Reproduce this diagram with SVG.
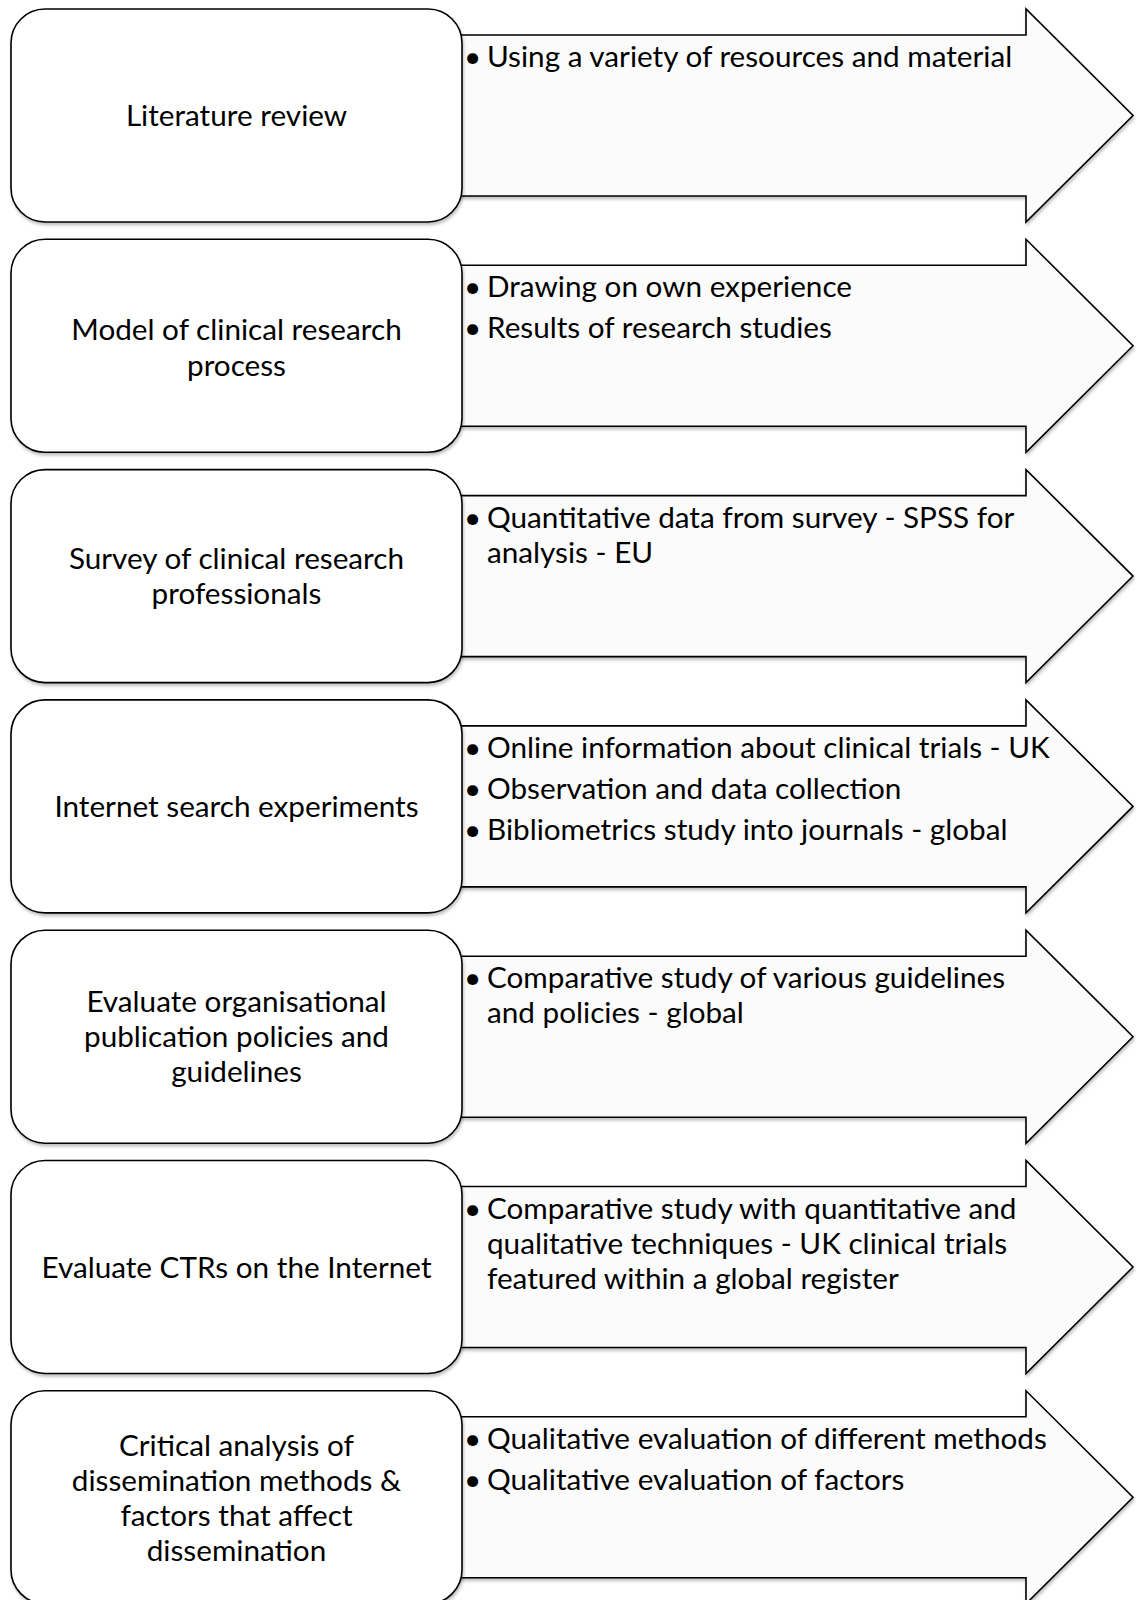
<svg xmlns="http://www.w3.org/2000/svg" width="1136" height="1600" viewBox="0 0 1136 1600">
  <style>
    .box { fill: #ffffff; stroke: #000000; stroke-width: 1.6; filter: url(#shadow); }
    .arrow { fill: #fbfbfb; stroke: #000000; stroke-width: 1.6; filter: url(#shadow); }
    .label { font-family: Lato, "Liberation Sans", sans-serif; font-size: 29.7px; fill: #000000; text-anchor: middle; }
    .item { font-family: Lato, "Liberation Sans", sans-serif; font-size: 29.7px; fill: #000000; }
  </style>
  <defs>
    <filter id="shadow" x="-5%" y="-5%" width="112%" height="115%">
      <feDropShadow dx="1" dy="2.5" stdDeviation="1.8" flood-color="#000000" flood-opacity="0.25"/>
    </filter>
    <!-- one block arrow, drawn relative to the row top -->
    <path id="blockArrow" d="M 440 26 H 1026 V 0 L 1133 106.5 L 1026 213 V 187 H 440 Z"/>
    <rect id="stepBox" x="11" y="0" width="451" height="213" rx="34" ry="34"/>
  </defs>

  <!-- detail arrows (drawn first so the step boxes sit on top) -->
  <g id="arrows">
    <g id="arrow-1" transform="translate(0 9)"><use href="#blockArrow" class="arrow"/></g>
    <g id="arrow-2" transform="translate(0 239.3)"><use href="#blockArrow" class="arrow"/></g>
    <g id="arrow-3" transform="translate(0 469.6)"><use href="#blockArrow" class="arrow"/></g>
    <g id="arrow-4" transform="translate(0 699.9)"><use href="#blockArrow" class="arrow"/></g>
    <g id="arrow-5" transform="translate(0 930.2)"><use href="#blockArrow" class="arrow"/></g>
    <g id="arrow-6" transform="translate(0 1160.5)"><use href="#blockArrow" class="arrow"/></g>
    <g id="arrow-7" transform="translate(0 1390.8)"><use href="#blockArrow" class="arrow"/></g>
  </g>

  <!-- step 1 -->
  <g id="step-1" transform="translate(0 9)">
    <use href="#stepBox" class="box"/>
    <text class="label" x="236.5" y="117">Literature review</text>
    <text class="item" y="58"><tspan x="464">•</tspan><tspan x="487">Using a variety of resources and material</tspan></text>
  </g>

  <!-- step 2 -->
  <g id="step-2" transform="translate(0 239.3)">
    <use href="#stepBox" class="box"/>
    <text class="label" x="236.5" y="100.5">Model of clinical research</text>
    <text class="label" x="236.5" y="137">process</text>
    <text class="item" y="58"><tspan x="464">•</tspan><tspan x="487">Drawing on own experience</tspan></text>
    <text class="item" y="99"><tspan x="464">•</tspan><tspan x="487">Results of research studies</tspan></text>
  </g>

  <!-- step 3 -->
  <g id="step-3" transform="translate(0 469.6)">
    <use href="#stepBox" class="box"/>
    <text class="label" x="236.5" y="99.7">Survey of clinical research</text>
    <text class="label" x="236.5" y="134.2">professionals</text>
    <text class="item" y="58"><tspan x="464">•</tspan><tspan x="487">Quantitative data from survey - SPSS for</tspan></text>
    <text class="item" x="487" y="93">analysis - EU</text>
  </g>

  <!-- step 4 -->
  <g id="step-4" transform="translate(0 699.9)">
    <use href="#stepBox" class="box"/>
    <text class="label" x="236.5" y="117">Internet search experiments</text>
    <text class="item" y="58"><tspan x="464">•</tspan><tspan x="487">Online information about clinical trials - UK</tspan></text>
    <text class="item" y="99"><tspan x="464">•</tspan><tspan x="487">Observation and data collection</tspan></text>
    <text class="item" y="140"><tspan x="464">•</tspan><tspan x="487">Bibliometrics study into journals - global</tspan></text>
  </g>

  <!-- step 5 -->
  <g id="step-5" transform="translate(0 930.2)">
    <use href="#stepBox" class="box"/>
    <text class="label" x="236.5" y="82">Evaluate organisational</text>
    <text class="label" x="236.5" y="117">publication policies and</text>
    <text class="label" x="236.5" y="152">guidelines</text>
    <text class="item" y="58"><tspan x="464">•</tspan><tspan x="487">Comparative study of various guidelines</tspan></text>
    <text class="item" x="487" y="93">and policies - global</text>
  </g>

  <!-- step 6 -->
  <g id="step-6" transform="translate(0 1160.5)">
    <use href="#stepBox" class="box"/>
    <text class="label" x="236.5" y="117">Evaluate CTRs on the Internet</text>
    <text class="item" y="58"><tspan x="464">•</tspan><tspan x="487">Comparative study with quantitative and</tspan></text>
    <text class="item" x="487" y="93">qualitative techniques - UK clinical trials</text>
    <text class="item" x="487" y="128">featured within a global register</text>
  </g>

  <!-- step 7 -->
  <g id="step-7" transform="translate(0 1390.8)">
    <use href="#stepBox" class="box"/>
    <text class="label" x="236.5" y="65">Critical analysis of</text>
    <text class="label" x="236.5" y="100">dissemination methods &amp;</text>
    <text class="label" x="236.5" y="135">factors that affect</text>
    <text class="label" x="236.5" y="170">dissemination</text>
    <text class="item" y="58"><tspan x="464">•</tspan><tspan x="487">Qualitative evaluation of different methods</tspan></text>
    <text class="item" y="99"><tspan x="464">•</tspan><tspan x="487">Qualitative evaluation of factors</tspan></text>
  </g>
</svg>
